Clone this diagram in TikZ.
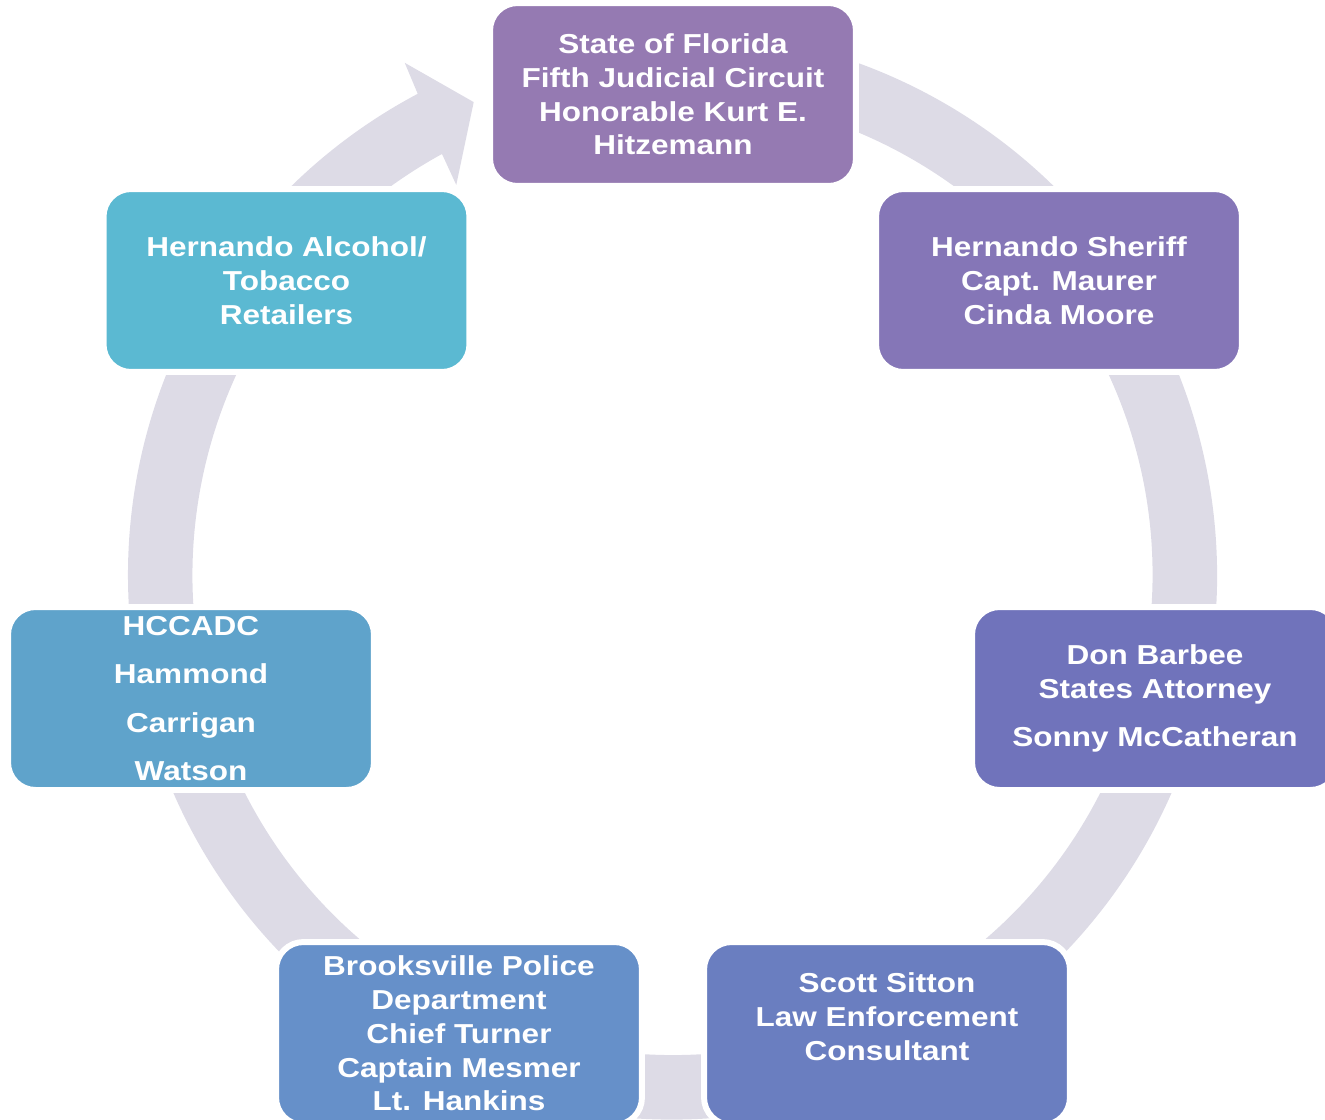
\documentclass[tikz,border=0pt]{standalone}
\usepackage{fontspec}
\setmainfont{Liberation Sans}[FakeStretch=1.15]
\definecolor{ringgray}{RGB}{221,219,230}
\definecolor{courtcol}{RGB}{149,122,178}
\definecolor{sheriffcol}{RGB}{133,118,183}
\definecolor{attorneycol}{RGB}{112,115,187}
\definecolor{consultcol}{RGB}{106,126,192}
\definecolor{policecol}{RGB}{102,144,201}
\definecolor{hccadccol}{RGB}{95,163,203}
\definecolor{retailcol}{RGB}{91,185,210}

\begin{document}
\begin{tikzpicture}
  [x=0.02cm,y=-0.02cm,
   stage/.style={rectangle,rounded corners=0.55cm,draw=white,line width=3.4pt,
     minimum width=7.32cm,minimum height=3.66cm,inner sep=0pt,align=center,
     text=white,font=\fontsize{15.6}{19.2}\selectfont\bfseries}]
  \useasboundingbox (0,0) rectangle (1325,1119);
  \clip (0,0) rectangle (1325,1119);

  \fill[ringgray,shift={(672.5,575)}]
    (-100:544.5) arc[start angle=-100,end angle=242.1,radius=544.5]
    -- (242.4:578) -- (247.2:513) -- (241:446) -- (241.3:480)
    arc[start angle=241.3,end angle=-100,radius=480] -- cycle;

  \node[stage,fill=courtcol] (court) at (673,94.5)
    {State of Florida\\Fifth Judicial Circuit\\Honorable Kurt E.\\Hitzemann};
  \node[stage,fill=sheriffcol] (sheriff) at (1059,280.5)
    {Hernando Sheriff\\Capt. Maurer\\Cinda Moore};
  \node[stage,fill=attorneycol] (attorney) at (1155,698.5)
    {Don Barbee\\States Attorney\\[8.2pt]Sonny McCatheran};
  \node[stage,fill=consultcol] (consultant) at (887,1033.5)
    {Scott Sitton\\Law Enforcement\\Consultant\\\mbox{}};
  \node[stage,fill=policecol] (police) at (459,1033.5)
    {Brooksville Police\\Department\\Chief Turner\\Captain Mesmer\\Lt. Hankins};
  \node[stage,fill=hccadccol] (hccadc) at (191,698.5)
    {HCCADC\\[8.2pt]Hammond\\[8.2pt]Carrigan\\[8.2pt]Watson};
  \node[stage,fill=retailcol] (retailers) at (286.5,280.5)
    {Hernando Alcohol/\\Tobacco\\Retailers};
\end{tikzpicture}
\end{document}
